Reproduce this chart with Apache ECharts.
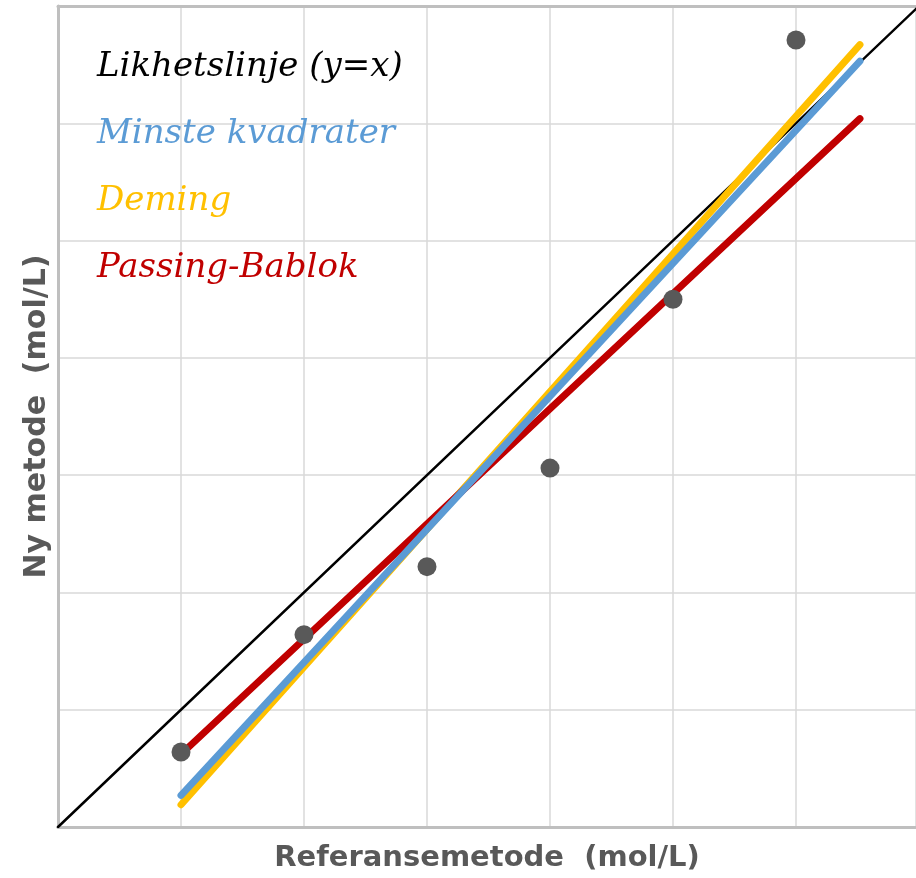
<!DOCTYPE html>
<html>
<head>
<meta charset="utf-8">
<title>Metodesammenligning</title>
<script src="https://cdn.jsdelivr.net/npm/echarts@6/dist/echarts.min.js"></script>
<style>
  html, body { margin: 0; padding: 0; background: #fff; }
  #chart { width: 916px; height: 878px; }
</style>
</head>
<body>
<div id="chart"></div>
<script>
// måleverdier: referansemetode (x) mot ny metode (y)
var refMetode = [1, 2, 3, 4, 5, 6];
var nyMetode = [0.64, 1.64, 2.22, 3.06, 4.50, 6.71];

// regresjonslinjer, start- og sluttpunkt
var likhetslinje = [[0, 0], [7, 7]];
var minsteKvadrater = [[1, 0.27], [6.52, 6.53]];
var deming = [[1, 0.19], [6.52, 6.67]];
var passingBablok = [[1, 0.62], [6.52, 6.04]];

var navn = ['Likhetslinje (y=x)', 'Minste kvadrater', 'Deming', 'Passing-Bablok'];
var farger = ['#000000', '#5B9BD5', '#FFC000', '#C00000'];

// x-aksen er kuttet i høyre kant av bildet
var xMax = 6.9756;
var aksefarge = '#BFBFBF';

var punkter = [];
for (var i = 0; i < refMetode.length; i++) {
    punkter.push([refMetode[i], nyMetode[i]]);
}

function linje(name, data, color, width) {
    return {
        name: name,
        type: 'line',
        data: data,
        symbol: 'none',
        silent: true,
        lineStyle: { color: color, width: width, cap: 'round' }
    };
}

function navnStil(size) {
    return {
        color: '#595959',
        fontFamily: 'DejaVu Sans',
        fontWeight: 'bold',
        fontSize: size
    };
}

var myChart = echarts.init(document.getElementById('chart'));
var option = {
    animation: false,
    legend: {
        orient: 'vertical',
        left: 87,
        top: 45,
        icon: 'none',
        itemWidth: 0,
        itemGap: 33,
        selectedMode: false,
        textStyle: {
            fontFamily: 'DejaVu Serif',
            fontStyle: 'italic',
            fontSize: 34
        },
        data: navn.map(function (n, k) {
            return { name: n, textStyle: { color: farger[k] } };
        })
    },
    grid: {
        left: 58,
        right: 0,
        top: 6,
        bottom: 50
    },
    xAxis: [{
        type: 'value',
        min: 0,
        max: xMax,
        interval: 1,
        name: 'Referansemetode  (mol/L)',
        nameLocation: 'middle',
        nameGap: 17,
        nameTextStyle: navnStil(29),
        axisLine: { lineStyle: { color: aksefarge, width: 3 } },
        axisTick: { show: false },
        axisLabel: { show: false },
        splitLine: { lineStyle: { color: '#D9D9D9', width: 1.5 } }
    }, {
        // bare topplinjen av rammen
        type: 'value',
        position: 'top',
        min: 0,
        max: xMax,
        axisLine: { lineStyle: { color: aksefarge, width: 3 } },
        axisTick: { show: false },
        axisLabel: { show: false },
        splitLine: { show: false }
    }],
    yAxis: {
        type: 'value',
        min: 0,
        max: 7,
        interval: 1,
        name: 'Ny metode  (mol/L)',
        nameLocation: 'middle',
        nameGap: 6,
        nameTextStyle: navnStil(30),
        axisLine: { lineStyle: { color: aksefarge, width: 3 } },
        axisTick: { show: false },
        axisLabel: { show: false },
        splitLine: { lineStyle: { color: '#D9D9D9', width: 1.5 } }
    },
    series: [
        linje(navn[0], likhetslinje, farger[0], 2.5),
        linje(navn[2], deming, farger[2], 7),
        linje(navn[3], passingBablok, farger[3], 7),
        linje(navn[1], minsteKvadrater, farger[1], 7),
        {
            type: 'scatter',
            data: punkter,
            symbolSize: 19,
            itemStyle: { color: '#595959', opacity: 1 },
            z: 5
        }
    ]
};
myChart.setOption(option);
</script>
</body>
</html>
